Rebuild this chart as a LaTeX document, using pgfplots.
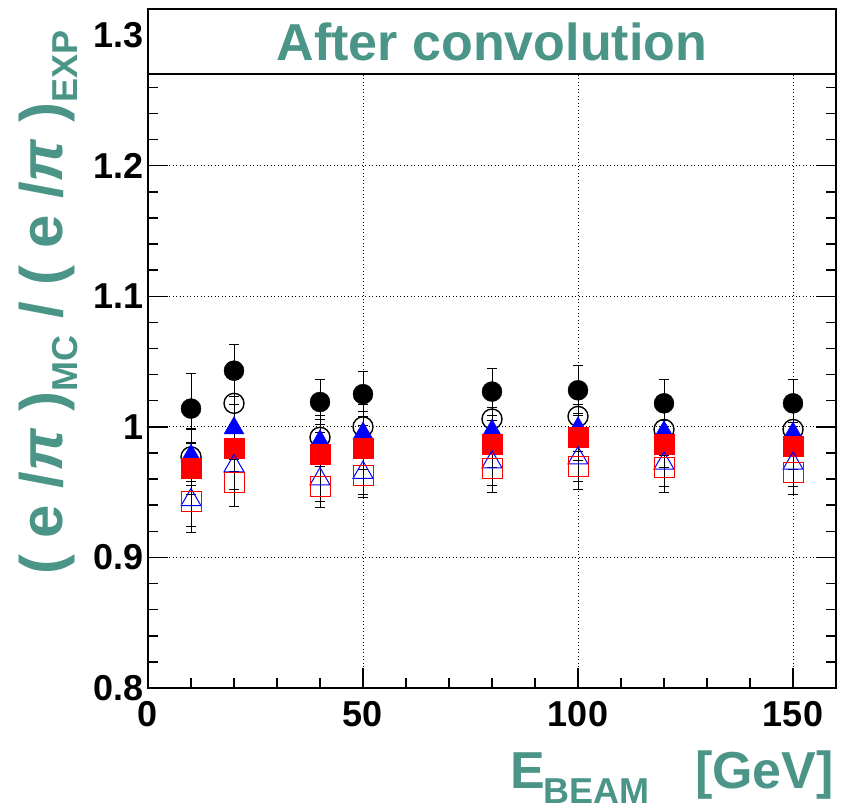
\documentclass[border=0pt]{standalone}
\usepackage{fontspec}
\setmainfont{Liberation Sans}
\usepackage{pgfplots}
\usepackage{pgfplotstable}
\pgfplotsset{compat=1.18}
\definecolor{rootteal}{RGB}{74,148,136}

\newcommand{\sub}[1]{\raisebox{-15pt}{\fontsize{36}{40}\selectfont #1}}

% x, then value and error of each of the six series
\pgfplotstableread{
x   fc    efc   oc    eoc   ft    eft   fs    efs   ot    eot   os    eos
10  1.014 0.027 0.977 0.022 0.978 0.020 0.968 0.020 0.944 0.020 0.943 0.024
20  1.043 0.020 1.018 0.018 0.999 0.018 0.984 0.018 0.970 0.018 0.957 0.018
40  1.019 0.017 0.992 0.017 0.989 0.017 0.979 0.017 0.960 0.017 0.954 0.016
50  1.025 0.017 1.000 0.017 0.995 0.017 0.984 0.017 0.965 0.017 0.963 0.017
80  1.027 0.018 1.006 0.018 0.997 0.018 0.987 0.018 0.973 0.018 0.968 0.018
100 1.028 0.019 1.008 0.018 0.999 0.018 0.992 0.018 0.976 0.018 0.970 0.018
120 1.018 0.018 0.998 0.018 0.996 0.018 0.987 0.018 0.972 0.018 0.969 0.019
150 1.018 0.018 0.998 0.018 0.995 0.018 0.985 0.018 0.972 0.018 0.965 0.017
}\datatable

\begin{document}
\begin{tikzpicture}
\begin{axis}[
    at={(148pt,122pt)}, anchor=south west,
    width=688pt, height=679pt, scale only axis,
    xmin=0, xmax=160, ymin=0.8, ymax=1.32,
    xtick={0,50,100,150},
    ytick={0.8,0.9,1,1.1,1.2,1.3},
    yticklabels={0.8,0.9,1,1.1,1.2,1.3},
    minor x tick num=4, minor y tick num=4,
    tick align=inside,
    major tick length=20pt, minor tick length=10pt,
    every tick/.style={black, line width=1.5pt},
    axis line style={line width=1.5pt},
    grid=major,
    major grid style={black, line width=0.9pt, dash pattern=on 0.9pt off 2.6pt},
    /pgf/number format/assume math mode=true,
    ticklabel style={font=\fontsize{36}{38}\selectfont\bfseries},
    xticklabel style={yshift=-10pt},
    yticklabel style={xshift=-1pt},
    clip=false,
    error bars/error bar style={draw=black, solid, line width=1pt},
    error bars/error mark options={rotate=90, draw=black, solid, mark size=5pt, line width=1pt},
]
\addplot[only marks, mark=*, mark size=10pt, black] table[x=x, y=fc] {\datatable};
\addplot[only marks, mark=o, mark size=10pt, black, line width=1.4pt] table[x=x, y=oc] {\datatable};
\addplot[only marks, mark=triangle*, mark size=11.5pt, blue] table[x=x, y=ft] {\datatable};
\addplot[only marks, mark=square*, mark size=10pt, red] table[x=x, y=fs] {\datatable};
\addplot[only marks, mark=triangle, mark size=11.5pt, blue, line width=1pt] table[x=x, y=ot] {\datatable};
\addplot[only marks, mark=square, mark size=10pt, red, line width=1pt] table[x=x, y=os] {\datatable};

% error bars, drawn over all markers
\addplot[draw=none, mark=none, error bars/.cd, y dir=both, y explicit] table[x=x, y=fc, y error=efc] {\datatable};
\addplot[draw=none, mark=none, error bars/.cd, y dir=both, y explicit] table[x=x, y=oc, y error=eoc] {\datatable};
\addplot[draw=none, mark=none, error bars/.cd, y dir=both, y explicit] table[x=x, y=ft, y error=eft] {\datatable};
\addplot[draw=none, mark=none, error bars/.cd, y dir=both, y explicit] table[x=x, y=fs, y error=efs] {\datatable};
\addplot[draw=none, mark=none, error bars/.cd, y dir=both, y explicit] table[x=x, y=ot, y error=eot] {\datatable};
\addplot[draw=none, mark=none, error bars/.cd, y dir=both, y explicit] table[x=x, y=os, y error=eos] {\datatable};

% title box
\draw[line width=1.5pt, fill=white] (rel axis cs:0,0.904) rectangle (rel axis cs:1,1);
\node[text=rootteal, font=\fontsize{52}{56}\selectfont\bfseries] at (rel axis cs:0.5,0.952) {After convolution};
\end{axis}

% axis titles
\node[text=rootteal, font=\fontsize{52}{56}\selectfont\bfseries, anchor=base east, inner sep=0pt]
  at (834pt,21pt) {E\hspace{-2pt}\sub{BEAM}\hspace{46pt}[GeV]};
\node[text=rootteal, font=\fontsize{60}{64}\selectfont\bfseries, rotate=90, anchor=base east, inner sep=0pt]
  at (62pt,780pt) {( e /\textit{π} )\sub{MC} / ( e /\textit{π} )\sub{EXP}};

\pgfresetboundingbox
\useasboundingbox (0,0) rectangle (844pt,810pt);
\end{tikzpicture}
\end{document}
